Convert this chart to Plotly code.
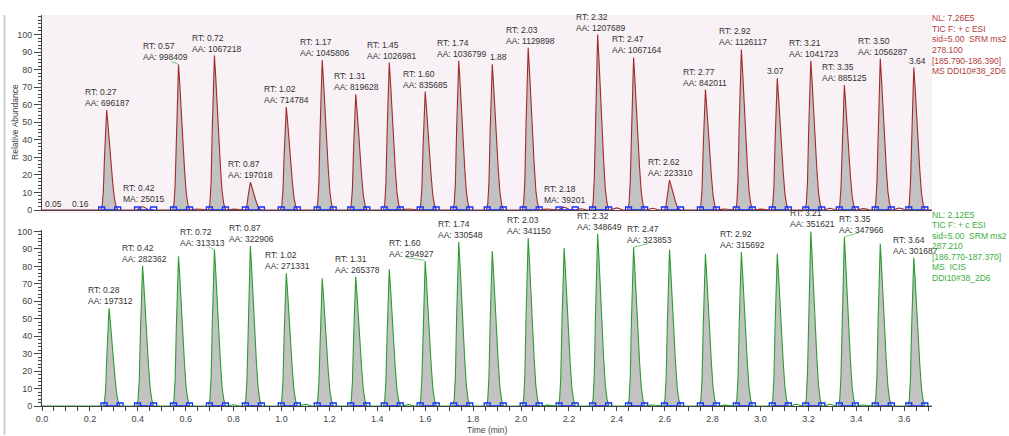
import plotly.graph_objects as go

# ---------------- data ----------------
top_rt = [0.27, 0.57, 0.72, 0.87, 1.02, 1.17, 1.31, 1.45, 1.60, 1.74, 1.88, 2.03,
          2.32, 2.47, 2.62, 2.77, 2.92, 3.07, 3.21, 3.35, 3.50, 3.64]
top_h = [57, 83, 88, 15.8, 58.7, 85.5, 66, 84, 67.5, 85, 83, 92.5,
         100, 86.9, 17, 68.6, 91.5, 75, 85, 71.2, 86.3, 81.2]
top_labels = ["RT: 0.27<br>AA: 696187", "RT: 0.57<br>AA: 998409", "RT: 0.72<br>AA: 1067218",
              "RT: 0.87<br>AA: 197018", "RT: 1.02<br>AA: 714784", "RT: 1.17<br>AA: 1045806",
              "RT: 1.31<br>AA: 819628", "RT: 1.45<br>AA: 1026981", "RT: 1.60<br>AA: 835685",
              "RT: 1.74<br>AA: 1036799", "1.88", "RT: 2.03<br>AA: 1129898",
              "RT: 2.32<br>AA: 1207689", "RT: 2.47<br>AA: 1067164", "RT: 2.62<br>AA: 223310",
              "RT: 2.77<br>AA: 842011", "RT: 2.92<br>AA: 1126117", "3.07",
              "RT: 3.21<br>AA: 1041723", "RT: 3.35<br>AA: 885125", "RT: 3.50<br>AA: 1056287", "3.64"]
# small labelled bumps on the top trace
top_small_rt = [0.05, 0.16, 0.42, 2.18]
top_small_h = [0.4, 0.3, 2.0, 1.6]
top_small_labels = ["0.05", "0.16", "RT: 0.42<br>MA: 25015", "RT: 2.18<br>MA: 39201"]
# unlabelled baseline wiggles
top_noise_rt = [0.65, 0.80, 1.10, 1.53, 1.68, 2.11, 2.25, 2.40, 2.55, 2.85, 3.00, 3.29, 3.43, 3.58]
top_noise_h = [0.6, 0.5, 0.4, 0.6, 0.4, 0.6, 0.7, 1.2, 1.0, 0.6, 0.5, 1.0, 0.8, 1.1]

bot_rt = [0.28, 0.42, 0.57, 0.72, 0.87, 1.02, 1.17, 1.31, 1.45, 1.60, 1.74, 1.88,
          2.03, 2.18, 2.32, 2.47, 2.62, 2.77, 2.92, 3.07, 3.21, 3.35, 3.50, 3.64]
bot_h = [56, 80.3, 85.8, 89.6, 91.7, 76, 73.2, 74.1, 78.4, 83, 94, 88.8,
         96.2, 90.5, 98.7, 91, 89.6, 87.3, 88.3, 87.3, 100, 96.8, 93, 85]
bot_labels = ["RT: 0.28<br>AA: 197312", "RT: 0.42<br>AA: 282362", "", "RT: 0.72<br>AA: 313313",
              "RT: 0.87<br>AA: 322906", "RT: 1.02<br>AA: 271331", "", "RT: 1.31<br>AA: 265378",
              "", "RT: 1.60<br>AA: 294927", "RT: 1.74<br>AA: 330548", "",
              "RT: 2.03<br>AA: 341150", "", "RT: 2.32<br>AA: 348649", "RT: 2.47<br>AA: 323853",
              "", "", "RT: 2.92<br>AA: 315692", "", "RT: 3.21<br>AA: 351621",
              "RT: 3.35<br>AA: 347966", "", "RT: 3.64<br>AA: 301687"]
bot_noise_rt = [0.80, 1.10, 1.53, 2.11, 2.55, 2.85, 3.15, 3.29, 3.43]
bot_noise_h = [0.7, 0.9, 0.8, 0.5, 0.6, 0.5, 1.0, 1.0, 0.6]

top_info = ["NL: 7.26E5", "TIC F: + c ESI", "sid=5.00  SRM ms2", "278.100",
            "[185.790-186.390]", "MS DDI10#38_2D6"]
bot_info = ["NL: 2.12E5", "TIC F: + c ESI", "sid=5.00  SRM ms2", "287.210",
            "[186.770-187.370]", "MS  ICIS", "DDI10#38_2D6"]

y_ticks = [0, 10, 20, 30, 40, 50, 60, 70, 80, 90, 100]
x_ticks = [0.0, 0.2, 0.4, 0.6, 0.8, 1.0, 1.2, 1.4, 1.6, 1.8, 2.0, 2.2, 2.4, 2.6, 2.8, 3.0, 3.2, 3.4, 3.6]

# ---------------- style / geometry ----------------
X_MAX = 3.716
W, H = 1009, 436
ML, MR, MT, MB = 42, 77, 12, 29
PH = H - MT - MB
FONT = "Liberation Sans, Arial, sans-serif"
RED = "#A32A2A"
GREEN = "#2E9B2E"
BLUE = "#1432FF"
FILL = "#C2C2C2"
LEADER = "#86CF86"
# peak profile template (time offset in min, fraction of apex)
PEAK_DT = [-0.025, -0.019, -0.014, -0.009, -0.004, 0.0, 0.005, 0.011, 0.018, 0.025, 0.032, 0.039, 0.047]
PEAK_FR = [0.0, 0.04, 0.18, 0.53, 0.85, 1.0, 0.87, 0.68, 0.48, 0.28, 0.12, 0.04, 0.0]
BUMP_DT = [-0.025, -0.012, 0.0, 0.012, 0.025]
BUMP_FR = [0.0, 0.6, 1.0, 0.6, 0.0]
BOUND_L, BOUND_R = -0.021, 0.046


def py(pix):
    return (H - MB - pix) / PH


def profile(rt, h, dts, frs):
    return [rt + d for d in dts], [h * f for f in frs]


def build_line(peaks, bumps):
    pts = []
    for rt, h in peaks:
        xs, ys = profile(rt, h, PEAK_DT, PEAK_FR)
        pts += list(zip(xs, ys))
    for rt, h in bumps:
        xs, ys = profile(rt, h, BUMP_DT, BUMP_FR)
        pts += list(zip(xs, ys))
    pts.sort()
    xs = [0.0] + [p[0] for p in pts] + [X_MAX]
    ys = [0.0] + [p[1] for p in pts] + [0.0]
    return xs, ys


def build_fill(peaks):
    xs, ys = [], []
    for rt, h in peaks:
        px, pyv = profile(rt, h, PEAK_DT, PEAK_FR)
        xs += px + [None]
        ys += pyv + [None]
    return xs, ys


def build_bounds(rts):
    xs, ys = [], []
    for rt in rts:
        xs += [rt + BOUND_L, rt + BOUND_R, None]
        ys += [0, 0, None]
    return xs, ys


fig = go.Figure()

panels = [
    dict(rt=top_rt, h=top_h, bumps=list(zip(top_small_rt, top_small_h)) + list(zip(top_noise_rt, top_noise_h)),
         color=RED, xa="x", ya="y", bounds=top_rt + [0.42, 2.18]),
    dict(rt=bot_rt, h=bot_h, bumps=list(zip(bot_noise_rt, bot_noise_h)),
         color=GREEN, xa="x2", ya="y2", bounds=bot_rt),
]
for p in panels:
    peaks = list(zip(p["rt"], p["h"]))
    fx, fy = build_fill(peaks)
    fig.add_trace(go.Scatter(x=fx, y=fy, mode="lines", fill="toself", fillcolor=FILL,
                             line=dict(width=0, color=FILL), xaxis=p["xa"], yaxis=p["ya"],
                             hoverinfo="skip", showlegend=False))
    lx, ly = build_line(peaks, p["bumps"])
    fig.add_trace(go.Scatter(x=lx, y=ly, mode="lines", line=dict(color=p["color"], width=1.1),
                             xaxis=p["xa"], yaxis=p["ya"], showlegend=False))
    bx, by = build_bounds(p["bounds"])
    fig.add_trace(go.Scatter(x=bx, y=by, mode="lines+markers",
                             line=dict(color=BLUE, width=1.6),
                             marker=dict(symbol="square-open", size=6, color=BLUE, line=dict(width=1.3, color=BLUE)),
                             xaxis=p["xa"], yaxis=p["ya"], showlegend=False))

annotations = []
LABEL_FONT = dict(family=FONT, size=8.5, color="#333333")
top_shift = {0.57: -38, 1.88: -4, 3.07: -12, 3.64: -7}
bot_shift = {0.72: -36, 1.60: -38, 2.47: -9, 3.35: -7}
for rt, h, lab in zip(top_rt, top_h, top_labels):
    annotations.append(dict(x=rt, y=h, xref="x", yref="y", text=lab, showarrow=False,
                            xanchor="left", yanchor="bottom", align="left",
                            xshift=top_shift.get(rt, -24), yshift=0, font=LABEL_FONT))
for rt, h, lab in zip(top_small_rt, top_small_h, top_small_labels):
    if lab.startswith("RT"):
        annotations.append(dict(x=rt, y=h, xref="x", yref="y", text=lab, showarrow=False,
                                xanchor="left", yanchor="bottom", align="left",
                                xshift=-22, yshift=0, font=LABEL_FONT))
    else:
        annotations.append(dict(x=rt, y=0, xref="x", yref="y", text=lab, showarrow=False,
                                xanchor="center", yanchor="bottom", yshift=-1, font=LABEL_FONT))
for rt, h, lab in zip(bot_rt, bot_h, bot_labels):
    if lab:
        annotations.append(dict(x=rt, y=h, xref="x2", yref="y2", text=lab, showarrow=False,
                                xanchor="left", yanchor="bottom", align="left",
                                xshift=bot_shift.get(rt, -23), yshift=0, font=LABEL_FONT))

for i, t in enumerate(top_info):
    annotations.append(dict(x=1, y=py(15 + i * 10.8), xref="paper", yref="paper", text=t,
                            showarrow=False, xanchor="left", yanchor="middle", xshift=-2,
                            font=dict(family=FONT, size=8.5, color="#B53A3A")))
for i, t in enumerate(bot_info):
    annotations.append(dict(x=1, y=py(214 + i * 10.6), xref="paper", yref="paper", text=t,
                            showarrow=False, xanchor="left", yanchor="middle", xshift=-2,
                            font=dict(family=FONT, size=8.5, color="#3DAE3D")))

annotations.append(dict(x=(15 - ML) / (W - ML - MR), y=py(120), xref="paper", yref="paper",
                        text="Relative Abundance", textangle=-90, showarrow=False,
                        xanchor="center", yanchor="middle",
                        font=dict(family=FONT, size=8.5, color="#444444")))
annotations.append(dict(x=0.5, y=py(431), xref="paper", yref="paper", text="Time (min)",
                        showarrow=False, xanchor="center", yanchor="middle",
                        font=dict(family=FONT, size=8.5, color="#444444")))

shapes = [
    dict(type="rect", xref="paper", yref="paper", x0=0, x1=1, y0=py(212), y1=1,
         fillcolor="#F8F1F5", line=dict(width=0), layer="below"),
    dict(type="line", xref="paper", yref="paper", x0=(4.5 - ML) / (W - ML - MR),
         x1=(4.5 - ML) / (W - ML - MR), y0=py(436), y1=1,
         line=dict(color="#CFCFCF", width=2)),
]
# faint leader lines joining displaced labels to their peaks (offsets in min / % units)
leaders = [("x", "y", 0.57, 83, -0.03, 0.0, 1.5, 0.0),
           ("x2", "y2", 0.72, 89.6, -0.025, 0.0, 1.5, 0.0),
           ("x2", "y2", 1.60, 83, -0.08, -0.003, 2.0, 0.5),
           ("x2", "y2", 2.47, 91, 0.0, 0.06, 0.0, 2.0),
           ("x2", "y2", 3.35, 96.8, 0.0, 0.06, 0.0, 2.5)]
for xa, ya, rt, h, d0, d1, e0, e1 in leaders:
    shapes.append(dict(type="line", xref=xa, yref=ya, x0=rt + d0, x1=rt + d1, y0=h + e0, y1=h + e1,
                       line=dict(color=LEADER, width=1)))

yax_common = dict(tickvals=y_ticks, ticks="outside", ticklen=7, tickcolor="#444444",
                  tickfont=dict(family=FONT, size=9, color="#444444"),
                  showline=True, linecolor="#444444", linewidth=1, showgrid=False,
                  zeroline=False, fixedrange=True,
                  minor=dict(dtick=2, ticks="outside", ticklen=3, tickcolor="#444444"))

fig.update_layout(
    width=W, height=H, margin=dict(l=ML, r=MR, t=MT, b=MB),
    paper_bgcolor="white", plot_bgcolor="rgba(0,0,0,0)",
    xaxis=dict(domain=[0, 1], range=[0, X_MAX], anchor="y", showticklabels=False, ticks="",
               showline=True, linecolor="#444444", showgrid=False, zeroline=False),
    yaxis=dict(domain=[py(209), 1], range=[0, (209 - 12) / 1.773], anchor="x", **yax_common),
    xaxis2=dict(domain=[0, 1], range=[0, X_MAX], anchor="y2", tickvals=x_ticks,
                ticktext=[f"{v:.1f}" for v in x_ticks], ticks="outside", ticklen=4,
                tickcolor="#444444", tickfont=dict(family=FONT, size=9, color="#444444"),
                showline=True, linecolor="#444444", showgrid=False, zeroline=False,
                minor=dict(dtick=0.05, ticks="outside", ticklen=4, tickcolor="#444444")),
    yaxis2=dict(domain=[0, py(229)], range=[0, (407 - 229) / 1.763], anchor="x2", **yax_common),
    annotations=annotations, shapes=shapes,
)

fig.write_html("out.html")
